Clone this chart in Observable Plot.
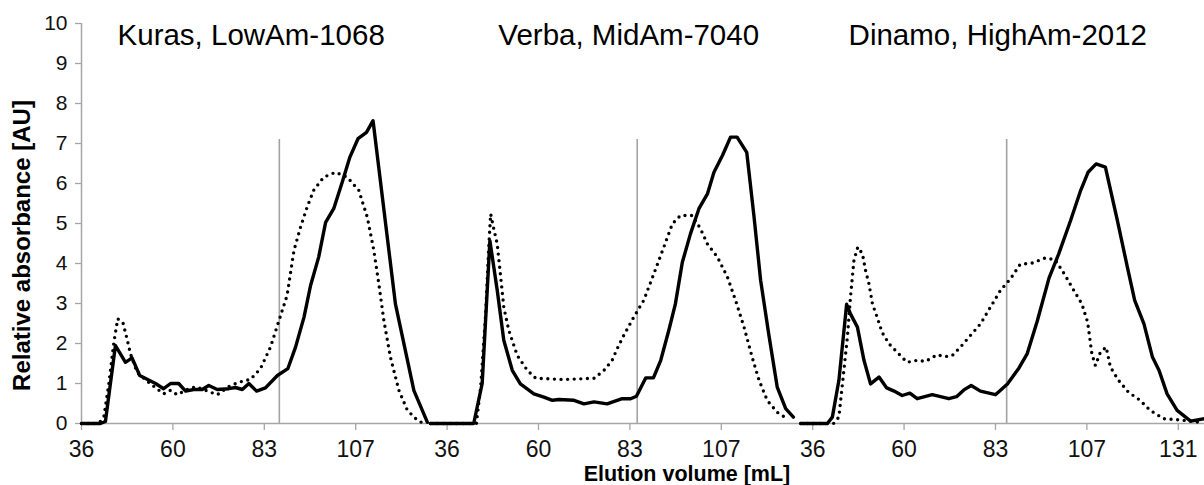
<!DOCTYPE html>
<html>
<head>
<meta charset="utf-8">
<script src="https://cdn.jsdelivr.net/npm/d3@7"></script>
<script src="https://cdn.jsdelivr.net/npm/@observablehq/plot@0.6"></script>
<style>
  html, body { margin: 0; padding: 0; background: #fff; }
</style>
</head>
<body>
<div id="chart"></div>
<script>
// ---------- data (elution volume in mL, relative absorbance in AU) ----------
const panelTitles = ["Kuras, LowAm-1068", "Verba, MidAm-7040", "Dinamo, HighAm-2012"];

// tick label volumes on each panel's category axis
const tickVolumes = [36, 59.7, 83.4, 107.1, 130.8];
const tickCountPerPanel = [4, 4, 5];

// vertical marker volume in each panel and its height
const markerVolumes = [87.3, 85.3, 86.3];
const markerTop = 7.1;

// Kuras, LowAm-1068
const kurasSolid = [
  [36.0,0],[40.9,0],[42.2,0.05],[44.8,1.95],[47.4,1.53],[49.1,1.64],[51.1,1.2],[55.2,1.0],
  [57.3,0.87],[59.1,1.0],[61.2,1.0],[63.0,0.81],[65.1,0.85],[67.3,0.85],[69.0,0.95],[71.2,0.85],
  [74.2,0.87],[75.9,0.9],[77.7,0.85],[79.4,1.0],[81.4,0.81],[83.7,0.89],[86.8,1.2],[89.5,1.37],
  [91.5,1.91],[93.7,2.66],[95.4,3.45],[97.5,4.16],[99.3,5.03],[101.4,5.37],[103.6,6.03],
  [105.6,6.66],[107.7,7.12],[109.9,7.28],[111.6,7.57],[117.4,2.99],[122.2,0.82],[125.7,0.03]
];
const kurasDotted = [
  [36.0,0],[40.4,0],[41.8,0.16],[43.1,1.0],[44.4,2.03],[45.4,2.62],[46.8,2.5],[47.8,2.12],
  [48.7,1.74],[50.4,1.28],[53.9,0.99],[57.3,0.74],[59.1,0.83],[60.8,0.72],[64.3,0.89],[66.0,0.91],
  [69.5,0.78],[71.2,0.72],[74.6,0.95],[78.1,1.07],[79.8,1.1],[82.4,1.37],[85.0,1.91],[86.8,2.45],
  [89.3,3.2],[91.1,4.33],[92.8,4.91],[94.5,5.41],[96.2,5.83],[98.8,6.16],[101.9,6.28],[104.9,6.16],
  [107.9,5.83],[110.1,5.16],[111.8,4.33],[113.1,3.49],[114.4,2.58],[116.1,1.66],[118.3,0.83],
  [120.5,0.33],[123.1,0.08],[124.8,0]
];

// Verba, MidAm-7040
const verbaSolid = [
  [31.7,0],[42.9,0],[45.1,1.0],[47.1,4.57],[49.0,3.33],[50.7,2.08],[52.9,1.33],[55.0,0.99],
  [58.5,0.74],[61.1,0.66],[63.3,0.58],[65.0,0.6],[68.9,0.58],[71.5,0.49],[74.1,0.54],[77.5,0.49],
  [81.4,0.62],[83.6,0.62],[85.1,0.68],[87.5,1.14],[89.5,1.14],[91.4,1.58],[93.5,2.33],[95.2,2.99],
  [97.0,4.03],[99.1,4.74],[101.3,5.37],[103.5,5.74],[105.2,6.28],[107.4,6.7],[109.5,7.16],
  [111.2,7.16],[113.7,6.78],[115.6,5.16],[117.3,3.58],[119.4,2.24],[121.6,0.91],[123.8,0.37],
  [125.8,0.16]
];
const verbaDotted = [
  [31.7,0],[43.6,0],[44.7,0.91],[46.0,2.74],[46.8,4.41],[47.3,5.24],[48.1,4.87],[49.0,4.49],
  [49.9,3.66],[50.7,2.91],[52.0,2.33],[54.2,1.7],[56.8,1.33],[59.0,1.13],[66.3,1.1],[74.1,1.13],
  [76.7,1.33],[78.8,1.58],[80.1,1.87],[81.8,2.2],[84.4,2.66],[87.0,3.08],[89.6,3.74],[92.2,4.41],
  [94.4,4.99],[96.5,5.2],[99.6,5.2],[101.7,4.87],[103.5,4.49],[106.1,4.16],[108.7,3.66],
  [110.8,3.08],[113.0,2.41],[115.1,1.66],[116.9,1.08],[119.0,0.58],[121.6,0.28],[124.2,0.12]
];

// Dinamo, HighAm-2012
const dinamoSolid = [
  [32.9,0],[39.8,0],[41.1,0.16],[42.8,1.08],[44.8,2.98],[45.8,2.74],[47.6,2.41],[49.3,1.58],
  [51.0,0.99],[53.2,1.16],[55.2,0.89],[57.1,0.81],[59.2,0.7],[61.2,0.76],[63.1,0.62],[67.0,0.72],
  [71.3,0.62],[73.3,0.67],[75.2,0.84],[77.1,0.95],[79.5,0.81],[83.4,0.72],[86.5,0.99],[89.5,1.39],
  [91.6,1.74],[94.2,2.55],[97.3,3.64],[99.8,4.24],[102.9,5.08],[105.5,5.83],[107.4,6.28],
  [109.5,6.49],[111.9,6.41],[115.0,5.08],[117.6,3.91],[119.5,3.08],[121.9,2.49],[124.1,1.66],
  [125.8,1.33],[127.9,0.74],[130.5,0.33],[134.0,0.06],[137.6,0.12]
];
const dinamoDotted = [
  [32.9,0],[41.4,0],[42.8,0.16],[43.9,1.16],[45.0,2.16],[45.8,3.16],[46.7,4.08],[47.7,4.41],
  [48.9,4.24],[49.7,3.83],[50.6,3.49],[51.5,2.99],[52.7,2.66],[54.0,2.28],[55.8,1.99],[57.9,1.78],
  [60.5,1.53],[63.1,1.58],[65.2,1.55],[68.3,1.72],[70.2,1.67],[72.2,1.7],[74.3,1.91],[76.9,2.2],
  [79.5,2.49],[82.1,2.91],[84.7,3.33],[87.3,3.62],[89.8,3.98],[92.9,4.01],[96.3,4.14],[98.9,4.09],
  [101.5,3.7],[103.7,3.33],[105.8,2.99],[107.3,2.53],[108.4,1.74],[109.3,1.45],[110.6,1.78],
  [112.1,1.91],[113.2,1.41],[115.3,1.08],[117.9,0.78],[120.9,0.58],[123.5,0.33],[127.0,0.12],
  [131.3,0.09],[136.5,0.03]
];

const yTicks = [0,1,2,3,4,5,6,7,8,9,10];

// ---------- layout ----------
const PANEL_SPAN = 94.8;           // mL of shared category axis taken by one panel
const X_MAX = 327.2;               // right edge of the shared axis
const series = [
  {panel: 0, style: "solid", points: kurasSolid},
  {panel: 0, style: "dotted", points: kurasDotted},
  {panel: 1, style: "solid", points: verbaSolid},
  {panel: 1, style: "dotted", points: verbaDotted},
  {panel: 2, style: "solid", points: dinamoSolid},
  {panel: 2, style: "dotted", points: dinamoDotted}
];
const rows = [];
for (const s of series) {
  for (const [v, a] of s.points) {
    rows.push({key: s.panel + "-" + s.style, style: s.style, gx: v + s.panel * PANEL_SPAN, a});
  }
}
const xTicks = [];
const xTickLabel = new Map();
tickCountPerPanel.forEach((n, p) => {
  tickVolumes.slice(0, n).forEach(v => {
    const g = +(v + p * PANEL_SPAN).toFixed(3);
    xTicks.push(g);
    xTickLabel.set(g, String(Math.round(v)));
  });
});
const markers = markerVolumes.map((v, p) => ({gx: v + p * PANEL_SPAN}));
const titleCenters = [80.0, 83.1, 84.0];
const titles = panelTitles.map((t, p) => ({t, gx: titleCenters[p] + p * PANEL_SPAN}));

const AXIS_GRAY = "#a6a6a6";
const chart = Plot.plot({
  width: 1204,
  height: 485,
  marginLeft: 81,
  marginRight: 0,
  marginTop: 23,
  marginBottom: 62,
  style: {fontFamily: "'Liberation Sans', Arial, sans-serif", background: "#fff", overflow: "visible"},
  x: {domain: [36, X_MAX]},
  y: {domain: [0, 10]},
  marks: [
    Plot.ruleY([0], {stroke: AXIS_GRAY, strokeWidth: 1.5}),
    Plot.ruleX([36], {stroke: AXIS_GRAY, strokeWidth: 1.5}),
    Plot.axisY(yTicks, {tickSize: 6, tickPadding: 8, stroke: AXIS_GRAY, fill: "#111", fontSize: 21, label: null, strokeWidth: 1.3}),
    Plot.axisX(xTicks, {tickSize: 7, tickPadding: 10, stroke: AXIS_GRAY, fill: "#111", fontSize: 23, label: null, strokeWidth: 1.3,
      tickFormat: d => xTickLabel.get(d)}),
    Plot.ruleX(markers, {x: "gx", y1: 0, y2: markerTop, stroke: "#a3a3a3", strokeWidth: 1.6}),
    Plot.line(rows.filter(d => d.style === "solid"), {x: "gx", y: "a", z: "key", stroke: "#000", strokeWidth: 3.4, strokeLinejoin: "round"}),
    Plot.line(rows.filter(d => d.style === "dotted"), {x: "gx", y: "a", z: "key", stroke: "#000", strokeWidth: 3.4,
      strokeDasharray: "0 6.6", strokeLinecap: "round"}),
    Plot.text(titles, {x: "gx", y: 9.7, text: "t", fontSize: 29.5, fill: "#000"}),
    Plot.text(["Elution volume [mL]"], {x: 193.0, frameAnchor: "bottom", dy: 42, lineAnchor: "top", text: d => d,
      fontSize: 21.5, fontWeight: "bold", fill: "#000"}),
    Plot.text(["Relative absorbance [AU]"], {frameAnchor: "left", y: 4.45, dx: -59, rotate: -90, text: d => d,
      textAnchor: "middle", fontSize: 24, fontWeight: "bold", fill: "#000"})
  ]
});
document.getElementById("chart").appendChild(chart);
</script>
</body>
</html>
